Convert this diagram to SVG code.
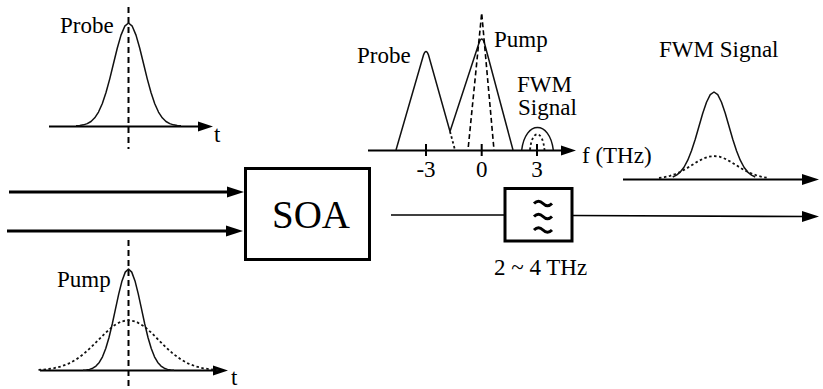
<svg xmlns="http://www.w3.org/2000/svg" width="823" height="389" viewBox="0 0 823 389">
<style>
svg text.t{fill:#000;font-family:Liberation Serif,serif !important;font-size:23px}
svg text.big{font-size:39px}
.ax{stroke:#000;stroke-width:2;fill:none}
.sol{stroke:#111;stroke-width:1.5;fill:none;stroke-linejoin:round}
.dot{stroke:#111;stroke-width:1.8;fill:none;stroke-dasharray:2.5,2.5}
.dash{stroke:#000;stroke-width:2;fill:none;stroke-dasharray:6,4}
.box{stroke:#000;stroke-width:3;fill:#fff}
.thick{stroke:#000;stroke-width:3;fill:none}
.thin{stroke:#000;stroke-width:1.7;fill:none}
</style>
<defs>
<marker id="ah" markerUnits="userSpaceOnUse" markerWidth="18" markerHeight="14" viewBox="0 0 18 14" refX="8" refY="7" orient="auto">
<path d="M0,1.5 L17,7 L0,12.5 z" fill="#000"/>
</marker>
<marker id="ahs" markerUnits="userSpaceOnUse" markerWidth="16" markerHeight="12" viewBox="0 0 16 12" refX="6" refY="6" orient="auto">
<path d="M0,1 L15,6 L0,11 z" fill="#000"/>
</marker>
</defs>

<g id="probe-pulse">
<line class="ax" x1="49" y1="126.5" x2="204" y2="126.5" marker-end="url(#ahs)"/>
<line class="dash" x1="128.5" y1="7" x2="128.5" y2="149"/>
<polyline class="sol" points="76,125.77 79.75,125.47 83.5,124.86 87.25,123.65 91,121.48 94.75,117.8 98.5,112.06 102.25,103.72 106,92.56 109.75,78.85 113.5,63.53 117.25,48.26 121,35.1 124.75,26.17 128.5,23 132.25,26.17 136,35.1 139.75,48.26 143.5,63.53 147.25,78.85 151,92.56 154.75,103.72 158.5,112.06 162.25,117.8 166,121.48 169.75,123.65 173.5,124.86 177.25,125.47 181,125.77"/>
<text class="t" x="60" y="33" font-family="Liberation Serif, serif">Probe</text>
<text class="t" x="214" y="142" font-family="Liberation Serif, serif">t</text>
</g>

<g id="pump-pulse">
<line class="ax" x1="40" y1="370.5" x2="219" y2="370.5" marker-end="url(#ahs)"/>
<line class="dash" x1="128.5" y1="240" x2="128.5" y2="389"/>
<polyline class="dot" points="38.5,369.94 46,369.35 53.5,368.28 61,366.48 68.5,363.67 76,359.58 83.5,354.1 91,347.38 98.5,339.87 106,332.38 113.5,325.93 121,321.56 128.5,320 136,321.56 143.5,325.93 151,332.38 158.5,339.87 166,347.38 173.5,354.1 181,359.58 188.5,363.67 196,366.48 203.5,368.28 211,369.35 218.5,369.94"/>
<polyline class="sol" points="83,370.28 86.25,369.98 89.5,369.37 92.75,368.19 96,366.04 99.25,362.42 102.5,356.77 105.75,348.55 109,337.54 112.25,324.03 115.5,308.94 118.75,293.89 122,280.93 125.25,272.13 128.5,269 131.75,272.13 135,280.93 138.25,293.89 141.5,308.94 144.75,324.03 148,337.54 151.25,348.55 154.5,356.77 157.75,362.42 161,366.04 164.25,368.19 167.5,369.37 170.75,369.98 174,370.28"/>
<text class="t" x="57" y="287" font-family="Liberation Serif, serif">Pump</text>
<text class="t" x="231" y="385" font-family="Liberation Serif, serif">t</text>
</g>

<g id="spectrum">
<line class="ax" x1="368" y1="150.5" x2="567" y2="150.5" marker-end="url(#ahs)"/>
<path class="ax" d="M426,144V156M481.7,144V156M537,144V156"/>
<path class="sol" d="M396,150 L423.5,55 Q426,48 428.5,55 L450,131.5 L479,43 Q481.7,35 484.4,43 L513,150"/>
<line class="dot" x1="450" y1="131.5" x2="455" y2="150"/>
<path class="dash" style="stroke-width:1.6;stroke-dasharray:5,3" d="M468.3,147 L481.7,13 L494,150"/>
<path class="sol" d="M521.7,150 C525.5,120 549.5,120 553.3,150"/>
<path class="dot" d="M530,150 C532,129 542.5,129 544.5,150"/>
<text class="t" x="357" y="63" font-family="Liberation Serif, serif">Probe</text>
<text class="t" x="494" y="47" font-family="Liberation Serif, serif">Pump</text>
<text class="t" x="517" y="92" font-family="Liberation Serif, serif">FWM</text>
<text class="t" x="518" y="115" font-family="Liberation Serif, serif">Signal</text>
<text class="t" x="426" y="176.5" text-anchor="middle" font-family="Liberation Serif, serif">-3</text>
<text class="t" x="481.7" y="176.5" text-anchor="middle" font-family="Liberation Serif, serif">0</text>
<text class="t" x="537" y="176.5" text-anchor="middle" font-family="Liberation Serif, serif">3</text>
<text class="t" x="582" y="163" font-family="Liberation Serif, serif">f (THz)</text>
</g>

<g id="fwm-output">
<line class="ax" x1="623" y1="179.5" x2="810" y2="179.5" marker-end="url(#ah)"/>
<polyline class="dot" points="659,177.99 664.5,177.17 670,175.89 675.5,174.03 681,171.53 686.5,168.47 692,165.05 697.5,161.64 703,158.7 708.5,156.71 714,156 719.5,156.71 725,158.7 730.5,161.64 736,165.05 741.5,168.47 747,171.53 752.5,174.03 758,175.89 763.5,177.17 769,177.99"/>
<polyline class="sol" points="672.75,177.02 676.5,175.18 680.25,172.07 684,167.23 687.75,160.18 691.5,150.75 695.25,139.17 699,126.23 702.75,113.33 706.5,102.22 710.25,94.68 714,92 717.75,94.68 721.5,102.22 725.25,113.33 729,126.23 732.75,139.17 736.5,150.75 740.25,160.18 744,167.23 747.75,172.07 751.5,175.18 755.25,177.02"/>
<text class="t" x="659" y="57" font-family="Liberation Serif, serif">FWM Signal</text>
</g>

<g id="connectors">
<line class="thick" x1="9" y1="192" x2="235" y2="192" marker-end="url(#ah)"/>
<line class="thick" x1="7" y1="231" x2="234" y2="231" marker-end="url(#ah)"/>
<line class="thin" x1="391" y1="215" x2="505" y2="215"/>
<line class="thin" x1="572" y1="215.5" x2="810" y2="216.5" marker-end="url(#ah)"/>
</g>

<g id="soa">
<rect class="box" x="245.5" y="168.5" width="124" height="91"/>
<text class="t big" x="311" y="228" text-anchor="middle" font-family="Liberation Serif, serif">SOA</text>
</g>

<g id="filter">
<rect class="box" x="505" y="188.5" width="67" height="52.5"/>
<path class="thick" d="M534,203.5 q4.5,-4.5 9,0 t9,0 M534,216.5 q4.5,-4.5 9,0 t9,0 M534,230 q4.5,-4.5 9,0 t9,0"/>
<text class="t" x="494" y="275" font-family="Liberation Serif, serif">2 ~ 4 THz</text>
</g>
</svg>
